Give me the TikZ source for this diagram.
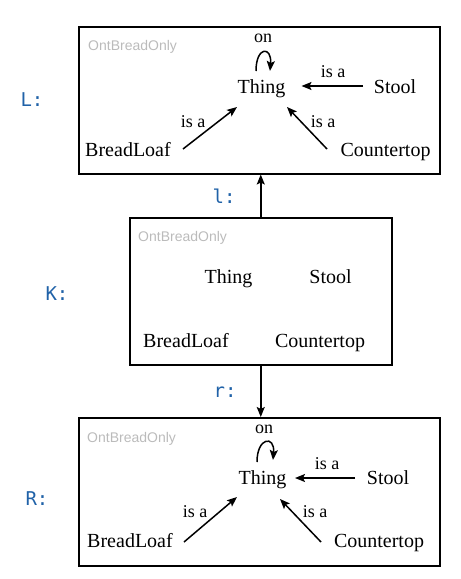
\documentclass[tikz,border=0pt]{standalone}
\usepackage{fontspec}
\setmainfont{Liberation Serif}
\setsansfont{Liberation Sans}
\setmonofont{DejaVu Sans Mono}
\usetikzlibrary{arrows.meta,calc}
\definecolor{labblue}{HTML}{2062A8}
\definecolor{ontgray}{HTML}{BBBBBB}
\begin{document}
\begin{tikzpicture}[x=1pt,y=-1pt,
  box/.style={draw=black,line width=1.5pt,inner sep=0pt,anchor=north west},
  term/.style={font=\fontsize{20}{22}\selectfont,anchor=base,inner sep=0pt},
  elab/.style={font=\fontsize{18}{20}\selectfont,anchor=base,inner sep=0pt},
  ont/.style={font=\sffamily\fontsize{14}{16}\selectfont,text=ontgray,anchor=base west,inner sep=0pt},
  mlab/.style={font=\ttfamily\fontsize{19}{21}\selectfont,text=labblue,anchor=base,inner sep=0pt},
  arr/.style={line width=1.5pt,-{Stealth[length=10pt,width=8pt,inset=2pt]}}
]
\useasboundingbox (0,0) rectangle (461,579);

% ---------- L ----------
\node[box,minimum width=361pt,minimum height=147pt] (Lbox) at (78,26) {};
\node[ont] (ontL) at (88,50) {OntBreadOnly};
\node[mlab] (labL) at (32,106) {L:};
\node[term] (thingL) at (261.5,93) {Thing};
\node[term] (stoolL) at (395,93) {Stool};
\node[term] (breadL) at (128,156) {BreadLoaf};
\node[term] (counterL) at (385.5,156) {Countertop};
\node[elab] (onL) at (263,42) {on};
\node[elab] (isaSL) at (333,77) {is a};
\node[elab] (isaBL) at (193,127) {is a};
\node[elab] (isaCL) at (323,127) {is a};
\draw[arr] ($(thingL.base)+(-5.5,-22)$) .. controls +(0,-25) and +(2,-25) .. ($(thingL.base)+(8.5,-22)$);
\draw[arr] ($(stoolL.base)+(-32,-7)$) -- ($(thingL.base)+(40,-7)$);
\draw[arr] ($(breadL.base)+(55,-7)$) -- ($(thingL.base)+(-24.5,14)$);
\draw[arr] ($(counterL.base)+(-58.5,-7)$) -- ($(thingL.base)+(25.5,14)$);

% ---------- K ----------
\node[box,minimum width=262pt,minimum height=147pt] (Kbox) at (129,217) {};
\node[ont] (ontK) at (138,241) {OntBreadOnly};
\node[mlab] (labK) at (57,300) {K:};
\node[term] (thingK) at (228.5,283) {Thing};
\node[term] (stoolK) at (330.5,283) {Stool};
\node[term] (breadK) at (186,347) {BreadLoaf};
\node[term] (counterK) at (320,347) {Countertop};

% ---------- R ----------
\node[box,minimum width=361pt,minimum height=148pt] (Rbox) at (78,417) {};
\node[ont] (ontR) at (87,442) {OntBreadOnly};
\node[mlab] (labR) at (37,505) {R:};
\node[term] (thingR) at (262.5,484) {Thing};
\node[term] (stoolR) at (388,484) {Stool};
\node[term] (breadR) at (130,547) {BreadLoaf};
\node[term] (counterR) at (379,547) {Countertop};
\node[elab] (onR) at (264,433) {on};
\node[elab] (isaSR) at (327,469) {is a};
\node[elab] (isaBR) at (195,517) {is a};
\node[elab] (isaCR) at (315,517) {is a};
\draw[arr] ($(thingR.base)+(-5.5,-22)$) .. controls +(0,-25) and +(2,-25) .. ($(thingR.base)+(10.5,-24)$);
\draw[arr] ($(stoolR.base)+(-33,-6)$) -- ($(thingR.base)+(32.5,-6)$);
\draw[arr] ($(breadR.base)+(54,-5)$) -- ($(thingR.base)+(-25.5,13)$);
\draw[arr] ($(counterR.base)+(-58,-5)$) -- ($(thingR.base)+(17.5,15)$);

% ---------- morphisms ----------
\node[mlab] (labl) at (224,203) {l:};
\node[mlab] (labr) at (225,397) {r:};
\draw[arr] (Kbox.north) -- (Kbox.north |- Lbox.south);
\draw[arr] (Kbox.south) -- (Kbox.south |- Rbox.north);
\end{tikzpicture}
\end{document}
